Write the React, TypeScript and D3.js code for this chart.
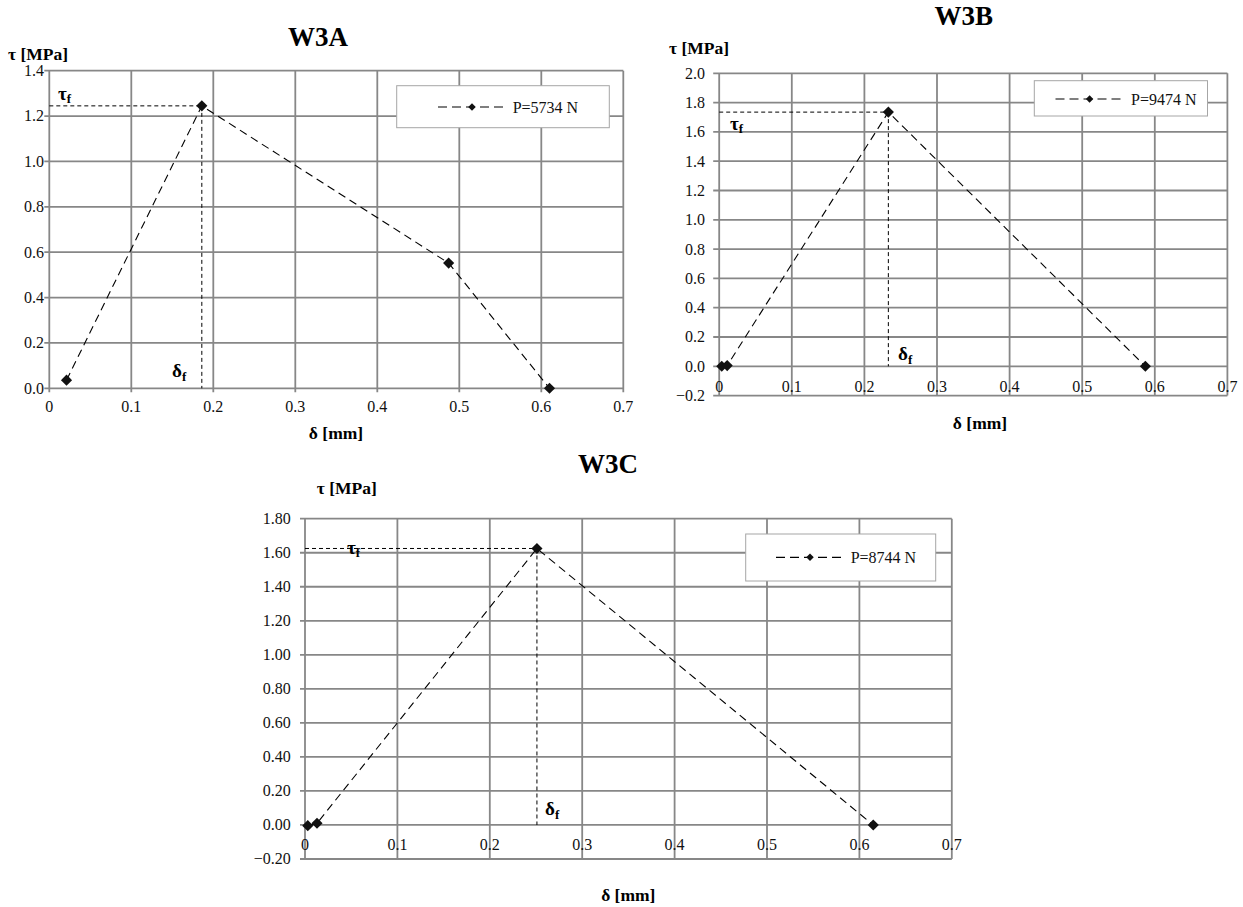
import React from 'react';
import * as d3 from 'd3';

const FONT = "'Liberation Serif', 'Times New Roman', Times, serif";

// ---- data ----
const xTicks = [0, 0.1, 0.2, 0.3, 0.4, 0.5, 0.6, 0.7];

const w3aDelta = [0.021, 0.186, 0.487, 0.61];
const w3aTau = [0.036, 1.245, 0.552, 0.0];
const w3aYTicks = [0, 0.2, 0.4, 0.6, 0.8, 1.0, 1.2, 1.4];
const w3aPeak = { delta: 0.186, tau: 1.245 };
const w3aLegend = 'P=5734 N';

const w3bDelta = [0.0035, 0.011, 0.233, 0.587];
const w3bTau = [0.0, 0.005, 1.735, 0.0];
const w3bYTicks = [-0.2, 0, 0.2, 0.4, 0.6, 0.8, 1.0, 1.2, 1.4, 1.6, 1.8, 2.0];
const w3bPeak = { delta: 0.233, tau: 1.735 };
const w3bLegend = 'P=9474 N';

const w3cDelta = [0.003, 0.013, 0.251, 0.615];
const w3cTau = [-0.004, 0.01, 1.625, 0.0];
const w3cYTicks = [-0.2, 0, 0.2, 0.4, 0.6, 0.8, 1.0, 1.2, 1.4, 1.6, 1.8];
const w3cPeak = { delta: 0.251, tau: 1.625 };
const w3cLegend = 'P=8744 N';

const GRID = '#878787';

type Cfg = {
  title: string;
  titleX: number;
  titleY: number;
  delta: number[];
  tau: number[];
  peak: { delta: number; tau: number };
  legendText: string;
  yTicks: number[];
  yFmt: string;
  x0: number;
  x1: number;
  yMin: number;
  yMax: number;
  yBottom: number;
  yTop: number;
  yLabelRight: number;
  yTickLen: number;
  yTitleX: number;
  yTitleY: number;
  xTickY: number;
  xTickBelow: boolean;
  xTitleX: number;
  xTitleY: number;
  legend: { x: number; y: number; w: number; h: number; l0: number; l1: number; d: number; tx: number; cy: number };
  tauLbl: { x: number; y: number };
  deltaLbl: { x: number; y: number };
};

const serif = (size: number, bold = false): React.CSSProperties => ({
  fontFamily: FONT,
  fontSize: size,
  fontWeight: bold ? 'bold' : 'normal',
});

function Panel({ c }: { c: Cfg }) {
  const x = d3.scaleLinear().domain([0, 0.7]).range([c.x0, c.x1]);
  const y = d3.scaleLinear().domain([c.yMin, c.yMax]).range([c.yBottom, c.yTop]);
  const fmt = d3.format(c.yFmt);
  const pts = c.delta.map((d, i) => [x(d), y(c.tau[i])] as [number, number]);
  const line = d3.line()(pts) || '';
  const diamond = d3.symbol(d3.symbolSquare, 62)() || '';
  const diamondSmall = d3.symbol(d3.symbolSquare, 28)() || '';
  const px = x(c.peak.delta);
  const py = y(c.peak.tau);
  const y0 = y(0);
  const L = c.legend;
  return (
    <g>
      <text x={c.titleX} y={c.titleY} textAnchor="middle" style={serif(27, true)}>
        {c.title}
      </text>
      <text x={c.yTitleX} y={c.yTitleY} style={serif(17.5, true)}>
        τ [MPa]
      </text>
      {/* grid */}
      {c.yTicks.map((t) => (
        <g key={'y' + t}>
          <line x1={c.x0 - c.yTickLen} x2={c.x1} y1={y(t)} y2={y(t)} stroke={GRID} strokeWidth={1.8} />
          <text x={c.yLabelRight} y={y(t) + 5.4} textAnchor="end" style={serif(16)} fill="#111">
            {fmt(t)}
          </text>
        </g>
      ))}
      {xTicks.map((t) => (
        <g key={'x' + t}>
          <line
            x1={x(t)}
            x2={x(t)}
            y1={c.yTop}
            y2={c.xTickBelow ? c.yBottom + 4 : c.yBottom}
            stroke={GRID}
            strokeWidth={1.8}
          />
          <text x={x(t)} y={c.xTickY} textAnchor="middle" style={serif(16)} fill="#111">
            {t === 0 ? '0' : d3.format('.1f')(t)}
          </text>
        </g>
      ))}
      <text x={c.xTitleX} y={c.xTitleY} textAnchor="middle" style={serif(17.5, true)}>
        δ [mm]
      </text>
      {/* reference lines */}
      <line x1={c.x0} x2={px} y1={py} y2={py} stroke="#000" strokeWidth={1} strokeDasharray="4,3" />
      <line x1={px} x2={px} y1={py} y2={y0} stroke="#000" strokeWidth={1} strokeDasharray="4,3" />
      {/* legend */}
      <rect x={L.x} y={L.y} width={L.w} height={L.h} fill="#fff" stroke="#a6a6a6" strokeWidth={1} />
      <line x1={L.l0} x2={L.l1} y1={L.cy} y2={L.cy} stroke="#000" strokeWidth={1.2} strokeDasharray="9,5" />
      <path d={diamondSmall} transform={`translate(${L.d},${L.cy}) rotate(45)`} fill="#111" />
      <text x={L.tx} y={L.cy + 5.5} style={serif(16)} fill="#111">
        {c.legendText}
      </text>
      {/* series */}
      <path d={line} fill="none" stroke="#000" strokeWidth={1.1} strokeDasharray="8,5" />
      {pts.map((p, i) => (
        <path key={i} d={diamond} transform={`translate(${p[0]},${p[1]}) rotate(45)`} fill="#111" />
      ))}
      {/* labels */}
      <text x={c.tauLbl.x} y={c.tauLbl.y} style={serif(19, true)}>
        τ<tspan style={{ fontSize: 13 }} dy={3}>f</tspan>
      </text>
      <text x={c.deltaLbl.x} y={c.deltaLbl.y} style={serif(19, true)}>
        δ<tspan style={{ fontSize: 13 }} dy={4}>f</tspan>
      </text>
    </g>
  );
}

const cfgA: Cfg = {
  title: 'W3A',
  titleX: 318,
  titleY: 45.5,
  delta: w3aDelta,
  tau: w3aTau,
  peak: w3aPeak,
  legendText: w3aLegend,
  yTicks: w3aYTicks,
  yFmt: '.1f',
  x0: 49.3,
  x1: 623.3,
  yMin: 0,
  yMax: 1.4,
  yBottom: 388.3,
  yTop: 70.7,
  yLabelRight: 44,
  yTickLen: 5,
  yTitleX: 8,
  yTitleY: 60,
  xTickY: 412,
  xTickBelow: true,
  xTitleX: 336,
  xTitleY: 439,
  legend: { x: 396.7, y: 85.7, w: 212.6, h: 42, l0: 438, l1: 506, d: 472, tx: 512.7, cy: 107 },
  tauLbl: { x: 58, y: 100 },
  deltaLbl: { x: 172, y: 377 },
};

const cfgB: Cfg = {
  title: 'W3B',
  titleX: 963.7,
  titleY: 25,
  delta: w3bDelta,
  tau: w3bTau,
  peak: w3bPeak,
  legendText: w3bLegend,
  yTicks: w3bYTicks,
  yFmt: '.1f',
  x0: 719.2,
  x1: 1227.4,
  yMin: -0.2,
  yMax: 2.0,
  yBottom: 395.6,
  yTop: 73.3,
  yLabelRight: 705,
  yTickLen: 6,
  yTitleX: 669,
  yTitleY: 54,
  xTickY: 391.5,
  xTickBelow: false,
  xTitleX: 980,
  xTitleY: 429,
  legend: { x: 1034.3, y: 80.7, w: 173.2, h: 35.3, l0: 1055.5, l1: 1123.2, d: 1089.6, tx: 1131, cy: 99 },
  tauLbl: { x: 730, y: 130 },
  deltaLbl: { x: 898, y: 360 },
};

const cfgC: Cfg = {
  title: 'W3C',
  titleX: 608,
  titleY: 472.5,
  delta: w3cDelta,
  tau: w3cTau,
  peak: w3cPeak,
  legendText: w3cLegend,
  yTicks: w3cYTicks,
  yFmt: '.2f',
  x0: 305,
  x1: 951.8,
  yMin: -0.2,
  yMax: 1.8,
  yBottom: 859,
  yTop: 518.7,
  yLabelRight: 290.7,
  yTickLen: 5,
  yTitleX: 316.7,
  yTitleY: 494,
  xTickY: 849.5,
  xTickBelow: false,
  xTitleX: 628.3,
  xTitleY: 901,
  legend: { x: 745.7, y: 534, w: 190, h: 47, l0: 776, l1: 844, d: 810, tx: 850.7, cy: 557.3 },
  tauLbl: { x: 347, y: 554 },
  deltaLbl: { x: 545, y: 815 },
};

export default function App() {
  return (
    <svg
      width={1243}
      height={907}
      style={{ position: 'absolute', left: 0, top: 0, background: '#fff' }}
    >
      <rect x={0} y={0} width={1243} height={907} fill="#fff" />
      <Panel c={cfgA} />
      <Panel c={cfgB} />
      <Panel c={cfgC} />
    </svg>
  );
}
